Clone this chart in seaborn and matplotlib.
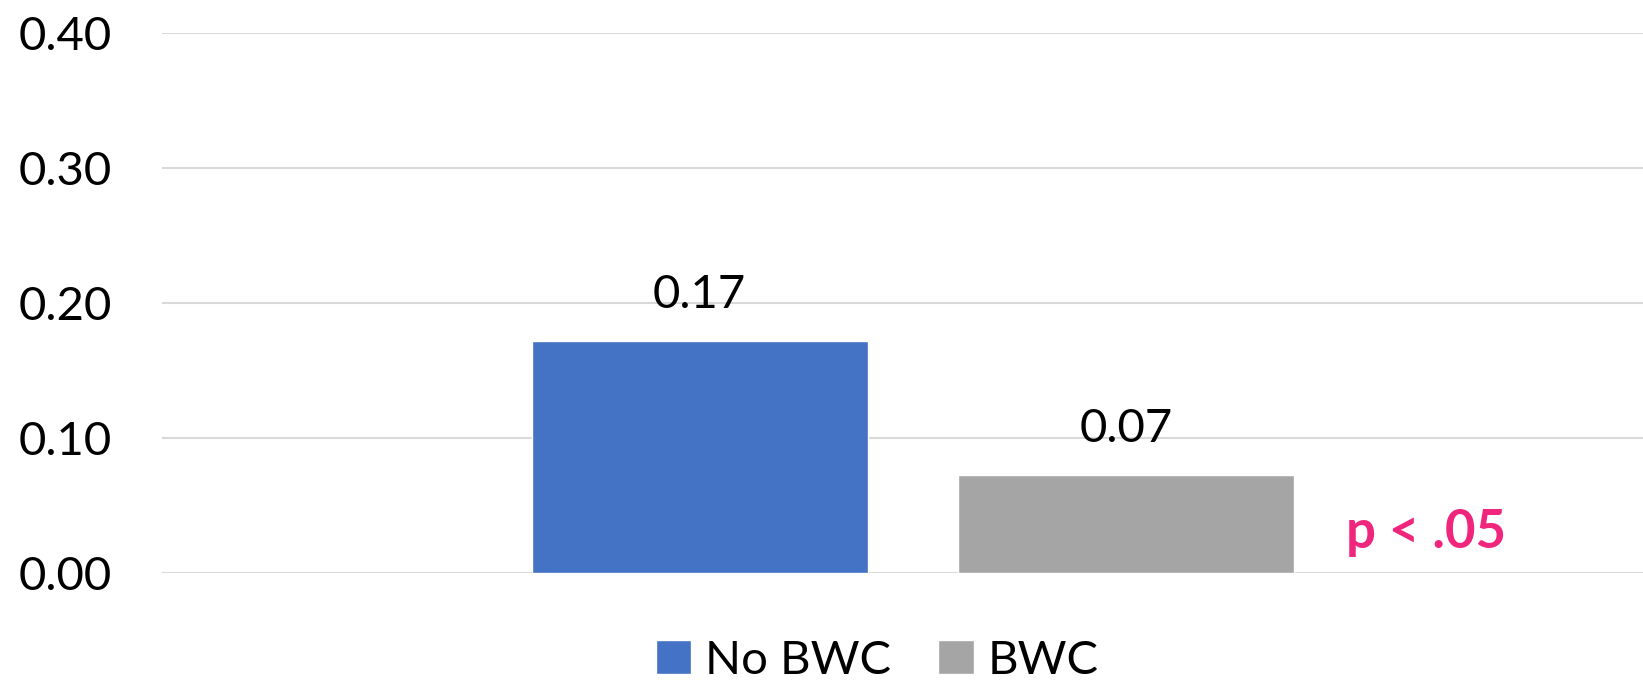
import matplotlib
matplotlib.use("Agg")
import matplotlib.pyplot as plt
import seaborn as sns
import pandas as pd

groups = ["No BWC", "BWC"]
values = [0.172, 0.073]
value_labels = ["0.17", "0.07"]
colors = ["#4472C4", "#A5A5A5"]
yticks = [0.0, 0.1, 0.2, 0.3, 0.4]
ytick_labels = ["0.00", "0.10", "0.20", "0.30", "0.40"]
note = "p < .05"

sns.set_theme(style="white")
plt.rcParams["font.family"] = ["Lato", "DejaVu Sans"]
plt.rcParams["text.color"] = "black"
plt.rcParams["ytick.color"] = "black"

df = pd.DataFrame({"cat": [""] * len(groups), "group": groups, "value": values})

fig = plt.figure(figsize=(16.43, 6.8), dpi=100)
ax = fig.add_axes([0.0986, 0.157, 0.9014, 0.794])

sns.barplot(data=df, x="cat", y="value", hue="group", hue_order=groups,
            palette=colors, width=0.576, gap=0.212, saturation=1,
            errorbar=None, ax=ax, legend=True)

ax.set_xlim(-0.507, 0.493)
ax.set_ylim(0, 0.4)
ax.set_yticks(yticks)
ax.set_yticklabels(ytick_labels, fontsize=34, color="black")
ax.tick_params(axis="y", length=0, pad=36)
ax.set_xticks([])
ax.set_xlabel("")
ax.set_ylabel("")
for s in ax.spines.values():
    s.set_visible(False)
ax.yaxis.grid(True, color="#D9D9D9", linewidth=1.5)
ax.set_axisbelow(True)

for cont, lab in zip(ax.containers, value_labels):
    ax.bar_label(cont, labels=[lab], padding=18, fontsize=34, color="black")

# note next to the BWC bar
bwc_patch = ax.containers[1][0]
xr = bwc_patch.get_x() + bwc_patch.get_width()
ax.text(xr + 0.035, 0.03, note, color="#F0267D", fontsize=38,
        fontweight="bold", ha="left", va="center")

handles, labels = ax.get_legend_handles_labels()
leg = ax.legend(handles, labels, loc="lower center", bbox_to_anchor=(0.483, -0.262),
                ncol=2, frameon=False, fontsize=34, handlelength=0.75,
                handleheight=0.75, handletextpad=0.3, columnspacing=1.0,
                borderpad=0.2)
for t in leg.get_texts():
    t.set_color("black")

fig.savefig("out.png", dpi=100, facecolor="white")
